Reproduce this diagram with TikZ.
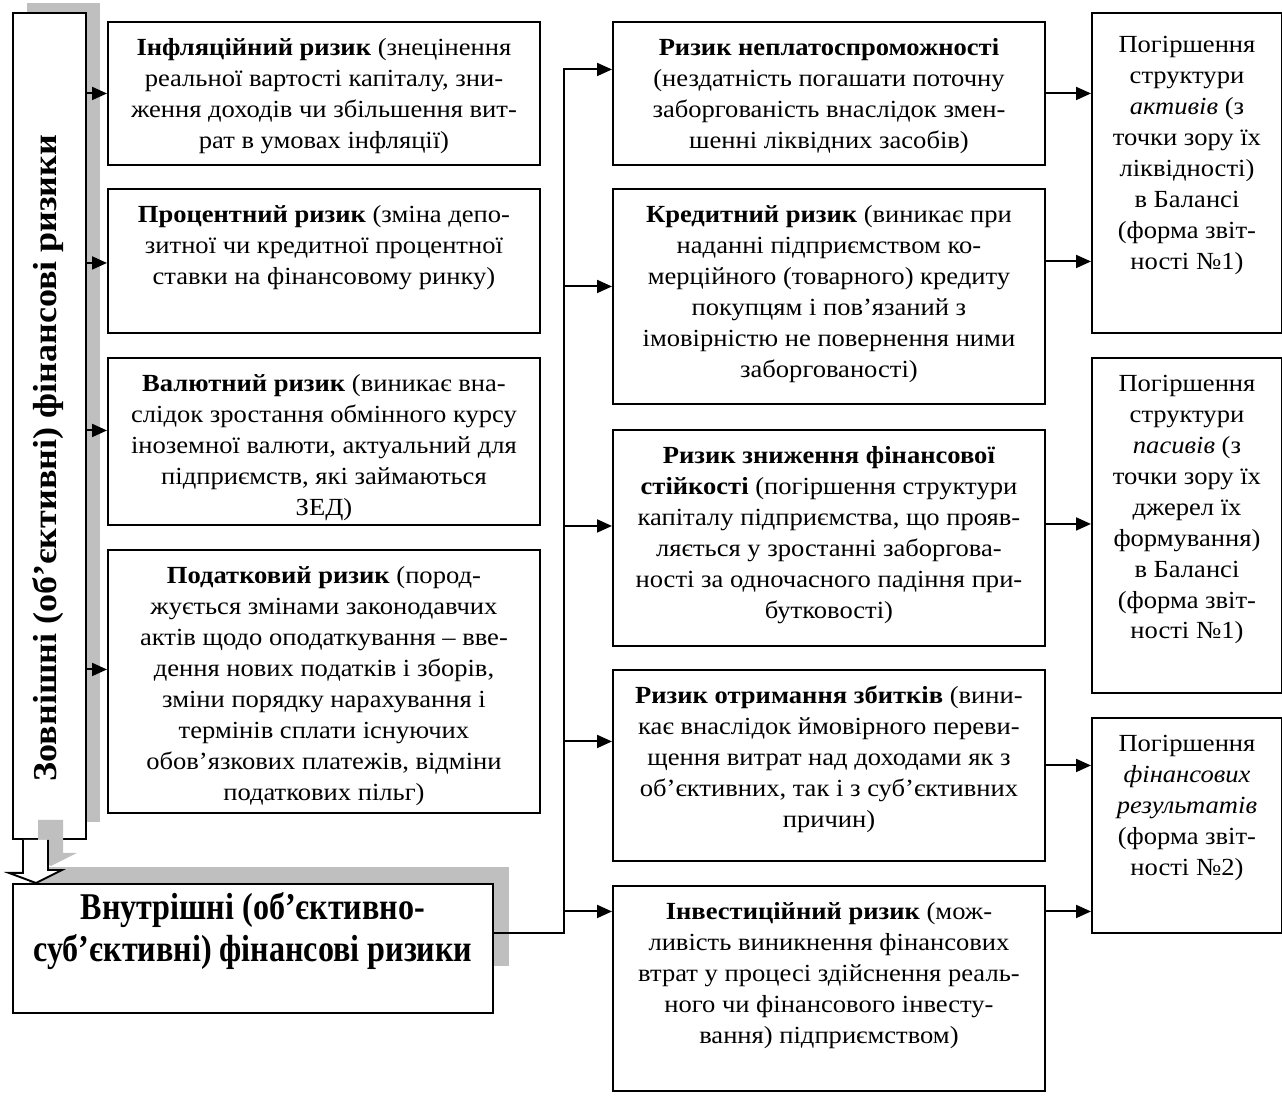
\documentclass[tikz,border=0pt]{standalone}
\usepackage{fontspec}
\setmainfont{Liberation Serif}[FakeStretch=1.08]
\newfontfamily\narrowfont[FakeStretch=0.85]{Liberation Serif}
\usetikzlibrary{arrows.meta}
\definecolor{shadowgray}{RGB}{191,191,191}
\newlength{\px}
\setlength{\px}{0.02cm}
\newcommand{\boxtext}[4][12]{\parbox[c][#3\px][t]{#2\px}{\centering\vspace*{#1\px}\strut #4}}

\begin{document}
\begin{tikzpicture}[x=0.02cm, y=-0.02cm, every node/.style={font=\fontsize{14}{17.6}\selectfont}]
        \tikzset{riskbox/.style={draw, line width=1.1pt, anchor=north west, inner sep=0pt}}
        \tikzset{link/.style={line width=1.1pt}}
        \tikzset{arr/.style={link, -{Triangle[length=0.3cm,width=0.26cm]}}}
        \useasboundingbox (0,0) rectangle (1282,1097);
        % shadows
        \fill[shadowgray] (27,3) rectangle (100,822);
        \fill[shadowgray] (29,867) rectangle (509,966);
        % main groups
        \node[riskbox, fill=white, minimum width=73\px, minimum height=826\px] (zovn) at (12,12) {};
        \node[rotate=90, font=\bfseries\fontsize{19}{22}\selectfont] (zovntxt) at (48,458) {Зовнішні (об’єктивні) фінансові ризики};
        \node[riskbox, fill=white, font=\narrowfont\bfseries\fontsize{21.5}{23.8}\selectfont] (vnutr) at (12,883) {\boxtext[6]{480}{129}{Внутрішні (об’єктивно-\\ суб’єктивні) фінансові ризики}};
        \fill[shadowgray] (38,820) -- (38,853) -- (24,853) -- (51,866) -- (77,853) -- (63,853) -- (63,820) -- cycle;
        \draw[link, fill=white] ([xshift=11\px]zovn.south west) -- ++(0,33) -- ++(-14,0) -- ([xshift=24\px]vnutr.north west) -- ++(26,-13) -- ++(-14,0) -- ([xshift=36\px]zovn.south west);
        % external risks
        \node[riskbox] (infl) at (107,21) {\boxtext{432}{143}{\textbf{Інфляційний ризик} (знецінення\\ реальної вартості капіталу, зни-\\ ження доходів чи збільшення вит-\\ рат в умовах інфляції)}};
        \node[riskbox] (proc) at (107,188) {\boxtext{432}{144}{\textbf{Процентний ризик} (зміна депо-\\ зитної чи кредитної процентної\\ ставки на фінансовому ринку)}};
        \node[riskbox] (valt) at (107,357) {\boxtext{432}{167}{\textbf{Валютний ризик} (виникає вна-\\ слідок зростання обмінного курсу\\ іноземної валюти, актуальний для\\ підприємств, які займаються\\ ЗЕД)}};
        \node[riskbox] (podat) at (107,549) {\boxtext{432}{263}{\textbf{Податковий ризик} (пород-\\ жується змінами законодавчих\\ актів щодо оподаткування – вве-\\ дення нових податків і зборів,\\ зміни порядку нарахування і\\ термінів сплати існуючих\\ обов’язкових платежів, відміни\\ податкових пільг)}};
        % internal risks
        \node[riskbox] (nepl) at (612,21) {\boxtext{432}{143}{\textbf{Ризик неплатоспроможності}\\ (нездатність погашати поточну\\ заборгованість внаслідок змен-\\ шенні ліквідних засобів)}};
        \node[riskbox] (kred) at (612,188) {\boxtext{432}{215}{\textbf{Кредитний ризик} (виникає при\\ наданні підприємством ко-\\ мерційного (товарного) кредиту\\ покупцям і пов’язаний з\\ імовірністю не повернення ними\\ заборгованості)}};
        \node[riskbox] (stiik) at (612,429) {\boxtext{432}{216}{\textbf{Ризик зниження фінансової}\\ \textbf{стійкості} (погіршення структури\\ капіталу підприємства, що прояв-\\ ляється у зростанні заборгова-\\ ності за одночасного падіння при-\\ бутковості)}};
        \node[riskbox] (zbyt) at (612,669) {\boxtext{432}{191}{\textbf{Ризик отримання збитків} (вини-\\ кає внаслідок ймовірного переви-\\ щення витрат над доходами як з\\ об’єктивних, так і з суб’єктивних\\ причин)}};
        \node[riskbox] (invest) at (612,885) {\boxtext{432}{205}{\textbf{Інвестиційний ризик} (мож-\\ ливість виникнення фінансових\\ втрат у процесі здійснення реаль-\\ ного чи фінансового інвесту-\\ вання) підприємством)}};
        % consequences
        \node[riskbox] (aktyv) at (1091,12) {\boxtext[18]{190}{320}{Погіршення\\ структури\\ \textit{активів} (з\\ точки зору їх\\ ліквідності)\\ в Балансі\\ (форма звіт-\\ ності №1)}};
        \node[riskbox] (pasyv) at (1091,357) {\boxtext{190}{335}{Погіршення\\ структури\\ \textit{пасивів} (з\\ точки зору їх\\ джерел їх\\ формування)\\ в Балансі\\ (форма звіт-\\ ності №1)}};
        \node[riskbox] (rezult) at (1091,717) {\boxtext{190}{215}{Погіршення\\ \textit{фінансових}\\ \textit{результатів}\\ (форма звіт-\\ ності №2)}};
        % connectors
        \coordinate (bus) at (564,68);
        \foreach \b/\s in {infl/0, proc/-2, valt/11, podat/12}
          \draw[arr] ([yshift=\s\px]\b.west -| zovn.east) -- ([yshift=\s\px]\b.west);
        \draw[link] ([yshift=15\px]vnutr.east) -| (bus);
        \foreach \b/\s in {nepl/24, kred/10, stiik/12, zbyt/24, invest/77}
          \draw[arr] ([yshift=\s\px]\b.west -| bus) -- ([yshift=\s\px]\b.west);
        \foreach \a/\b/\s in {nepl/aktyv/0, kred/aktyv/35, stiik/pasyv/14, zbyt/rezult/0, invest/rezult/77}
          \draw[arr] ([yshift=\s\px]\a.east) -- ([yshift=\s\px]\a.east -| \b.west);
      \end{tikzpicture}
\end{document}
